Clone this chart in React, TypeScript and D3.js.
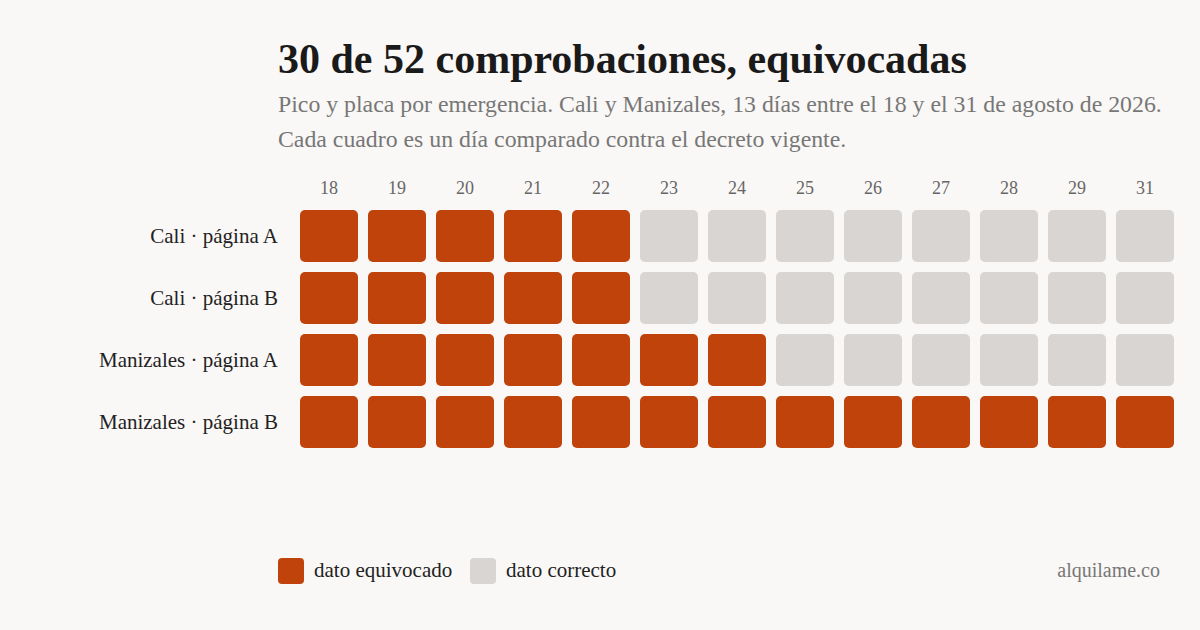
import React from 'react';
import * as d3 from 'd3';

// días revisados (no hay 30)
const days = ['18', '19', '20', '21', '22', '23', '24', '25', '26', '27', '28', '29', '31'];
const rows = ['Cali · página A', 'Cali · página B', 'Manizales · página A', 'Manizales · página B'];
// 1 = dato equivocado, 0 = dato correcto
const caliA = [1, 1, 1, 1, 1, 0, 0, 0, 0, 0, 0, 0, 0];
const caliB = [1, 1, 1, 1, 1, 0, 0, 0, 0, 0, 0, 0, 0];
const manizalesA = [1, 1, 1, 1, 1, 1, 1, 0, 0, 0, 0, 0, 0];
const manizalesB = [1, 1, 1, 1, 1, 1, 1, 1, 1, 1, 1, 1, 1];
const legendItems = ['dato equivocado', 'dato correcto'];

const W = 1200, H = 630;
const ORANGE = '#c0430c';
const GREY = '#d8d5d3';
const FONT = '"Liberation Serif", "Times New Roman", serif';

export default function App() {
  const grid = [caliA, caliB, manizalesA, manizalesB];
  const x = d3.scaleBand<string>().domain(days).range([300, 1174]).paddingInner(10 / 68);
  const y = d3.scaleBand<string>().domain(rows).range([210, 448]).paddingInner(10 / 62);
  const color = d3.scaleOrdinal<number, string>().domain([1, 0]).range([ORANGE, GREY]);

  return (
    <div style={{ position: 'fixed', left: 0, top: 0, width: W, height: H }}>
      <svg width={W} height={H} style={{ display: 'block', fontFamily: FONT }}>
        <rect width={W} height={H} fill="#faf8f6" />
        <text x={278} y={73} fontSize={42} fontWeight="bold" fill="#1a1a1a">
          30 de 52 comprobaciones, equivocadas
        </text>
        <text x={278} y={112} fontSize={23.8} fill="#777">
          Pico y placa por emergencia. Cali y Manizales, 13 días entre el 18 y el 31 de agosto de 2026.
        </text>
        <text x={278} y={147} fontSize={23.8} fill="#777">
          Cada cuadro es un día comparado contra el decreto vigente.
        </text>

        {days.map(d => (
          <text key={d} x={x(d)! + x.bandwidth() / 2} y={194} textAnchor="middle"
            fontSize={18} fill="#666">{d}</text>
        ))}

        {rows.map((r, i) => (
          <g key={r}>
            <text x={278} y={y(r)! + y.bandwidth() / 2 + 7} textAnchor="end"
              fontSize={21} fill="#222">{r}</text>
            {grid[i].map((v, j) => (
              <rect key={j} x={x(days[j])} y={y(r)} width={x.bandwidth()} height={y.bandwidth()}
                rx={5} fill={color(v)} />
            ))}
          </g>
        ))}

        {legendItems.map((t, i) => {
          const lx = i === 0 ? 278 : 470;
          return (
            <g key={t}>
              <rect x={lx} y={558} width={26} height={26} rx={4} fill={color(i === 0 ? 1 : 0)} />
              <text x={lx + 36} y={577} fontSize={21} fill="#222">{t}</text>
            </g>
          );
        })}
        <text x={1160} y={577} textAnchor="end" fontSize={20} fill="#777">
          alquilame.co
        </text>
      </svg>
    </div>
  );
}
